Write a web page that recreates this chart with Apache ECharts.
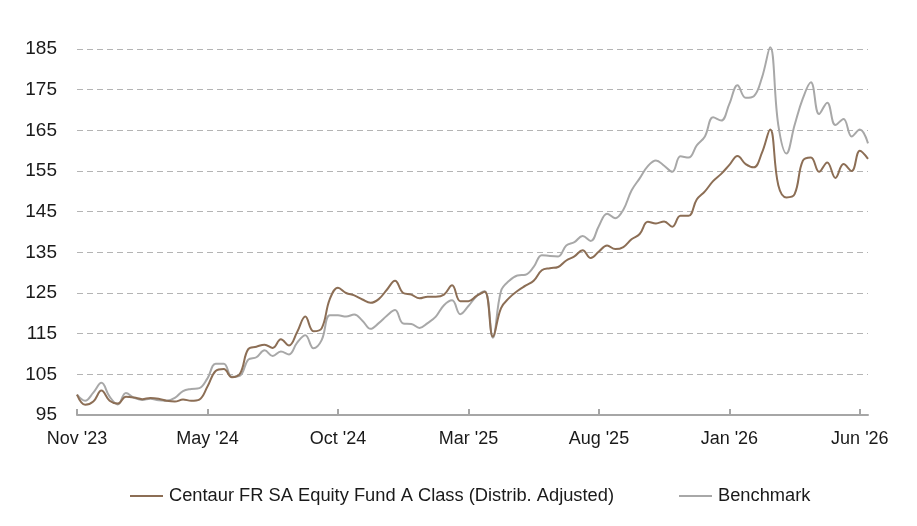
<!DOCTYPE html>
<html>
<head>
<meta charset="utf-8">
<script src="https://cdn.jsdelivr.net/npm/echarts@6/dist/echarts.min.js"></script>
<style>
  html, body { margin: 0; padding: 0; background: #fff; }
  #chart { width: 917px; height: 526px; }
</style>
</head>
<body>
<div id="chart"></div>
<script>
// 轴标签（每 16 个点一个）
const tickLabels = ["Nov '23", "May '24", "Oct '24", "Mar '25", "Aug '25", "Jan '26", "Jun '26"];
const tickStep = 16;

// 基金（分红调整后）
const fund = [
    100, 97.5, 98.3, 101, 98.5, 97.8, 99.5, 99.3, 98.9, 99.2,
    99, 98.5, 98.3, 98.8, 98.5, 98.8, 102, 105.8, 106.3, 104.3,
    105.2, 111.2, 111.8, 112.3, 111.5, 113.6, 112.1, 115.4, 119.2, 115.6,
    116.3, 123.5, 126.3, 125, 124.4, 123.4, 122.6, 123.5, 125.8, 128,
    125, 124.6, 123.7, 124.1, 124.1, 124.6, 126.9, 123, 123, 124.3,
    125.3, 114.3, 121.3, 123.8, 125.5, 126.8, 128, 130.6, 131.1, 131.4,
    133, 134, 135.5, 133.6, 135.2, 136.7, 135.8, 136.3, 138.2, 139.5,
    142.5, 142.1, 142.6, 141.3, 144, 144, 148, 150, 152.5, 154.3,
    156.5, 158.7, 156.7, 155.9, 159.5, 165.2, 151.5, 148.5, 149.3, 157.5,
    158.3, 154.8, 157.1, 153.3, 156.7, 155, 160, 158
];

// 基准
const benchmark = [
    100, 98.5, 100.5, 102.9, 99.5, 97.6, 100.4, 99.2, 98.7, 99,
    98.6, 98.5, 99.2, 100.9, 101.4, 101.6, 104, 107.6, 107.6, 104.4,
    104.7, 108.6, 109.2, 110.9, 109.5, 110.6, 109.9, 112.8, 114.6, 111.4,
    113.4, 119.5, 119.5, 119.2, 119.7, 118.2, 116.2, 117.6, 119.4, 120.8,
    117.5, 117.4, 116.4, 117.6, 119.2, 122, 123.2, 119.8, 121.8, 124.2,
    125.4, 114, 125.5, 128, 129.3, 129.5, 131.4, 134.3, 134.1, 134,
    136.7, 137.5, 139, 137.8, 141.5, 144.5, 143.4, 145.5, 150.2, 153.2,
    156.2, 157.6, 156.3, 154.8, 158.6, 158.3, 161.3, 163.5, 168.2, 167.4,
    171.5, 176.1, 173, 173.4, 178, 185.4, 166.3, 159.3, 166.3, 172.8,
    176.8, 169, 171.8, 166.3, 167.8, 163.5, 165.2, 161.8
];

const seriesNames = ['Centaur FR SA Equity Fund A Class (Distrib. Adjusted)', 'Benchmark'];
const colors = ['#8c6e55', '#a8a8a8'];

const fontName = 'Liberation Sans, Arial, sans-serif';

var chartDom = document.getElementById('chart');
var myChart = echarts.init(chartDom);
var option;

option = {
    animation: false,
    color: colors,
    grid: {
        left: 77,
        right: 49,
        top: 49,
        bottom: 111
    },
    legend: {
        data: seriesNames,
        left: 130,
        top: 487,
        padding: 0,
        icon: 'rect',
        itemWidth: 33,
        itemHeight: 2,
        itemGap: 65,
        textStyle: {
            fontFamily: fontName,
            fontSize: 18.3,
            color: '#1a1a1a',
            padding: [0, 0, 0, 1]
        }
    },
    xAxis: {
        type: 'category',
        boundaryGap: false,
        data: fund.map((v, i) => i),
        axisLine: { lineStyle: { color: '#a6a6a6', width: 2 } },
        axisTick: {
            inside: true,
            length: 6,
            interval: tickStep - 1,
            lineStyle: { color: '#a6a6a6', width: 2 }
        },
        axisLabel: {
            interval: tickStep - 1,
            margin: 15,
            fontFamily: fontName,
            fontSize: 18,
            color: '#1a1a1a',
            formatter: function (v, i) {
                return tickLabels[i / tickStep] || '';
            }
        },
        splitLine: { show: false }
    },
    yAxis: {
        type: 'value',
        min: 95,
        max: 185,
        interval: 10,
        axisLine: { show: false },
        axisTick: { show: false },
        axisLabel: {
            margin: 20,
            fontFamily: fontName,
            fontSize: 19,
            color: '#1a1a1a'
        },
        splitLine: {
            lineStyle: { color: '#b4b4b4', type: [6, 4], width: 1 }
        }
    },
    series: [
        {
            name: seriesNames[0],
            type: 'line',
            data: fund,
            smooth: 0.4,
            showSymbol: false,
            clip: false,
            lineStyle: { width: 2 },
            z: 3
        },
        {
            name: seriesNames[1],
            type: 'line',
            data: benchmark,
            smooth: 0.4,
            showSymbol: false,
            clip: false,
            lineStyle: { width: 2 },
            z: 2
        }
    ]
};

option && myChart.setOption(option);
</script>
</body>
</html>
